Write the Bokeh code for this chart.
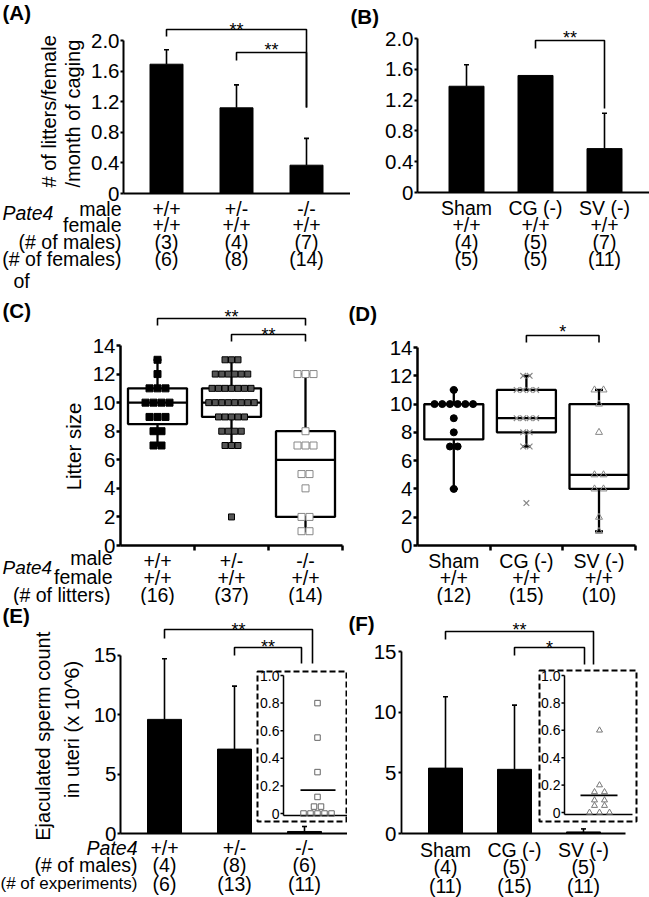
import math
from collections import Counter
import numpy as np
from bokeh.plotting import figure
from bokeh.models import Range1d, FixedTicker, Label
from bokeh.layouts import column, row
from bokeh.embed import file_html
from bokeh.resources import INLINE

# ===================== DATA =====================
# (A) litters / female / month of caging
A_male = ["+/+", "+/-", "-/-"]
A_female = ["+/+", "+/+", "+/+"]
A_n_males = ["(3)", "(4)", "(7)"]
A_n_females = ["(6)", "(8)", "(14)"]
A_mean = [1.69, 1.12, 0.37]
A_err = [0.19, 0.30, 0.35]
A_yticks = [0, 0.4, 0.8, 1.2, 1.6, 2.0]
A_yticklabels = ["0", "0.4", "0.8", "1.2", "1.6", "2.0"]
A_rows = ["male", "female", "(# of males)", "(# of females)"]

# (B)
B_groups = ["Sham", "CG (-)", "SV (-)"]
B_female = ["+/+", "+/+", "+/+"]
B_n_males = ["(4)", "(5)", "(7)"]
B_n_females = ["(5)", "(5)", "(11)"]
B_mean = [1.38, 1.52, 0.57]
B_err = [0.28, 0.0, 0.46]

# (C) litter size
C_male = ["+/+", "+/-", "-/-"]
C_female = ["+/+", "+/+", "+/+"]
C_n_litters = ["(16)", "(37)", "(14)"]
C_pts_wt = [13, 12, 11, 11, 11, 10, 10, 10, 10, 9, 9, 9, 8, 8, 7, 7]
C_pts_het = [13, 13, 13, 12, 12, 12, 12, 12, 12, 11, 11, 11, 11, 11, 11, 11,
             10, 10, 10, 10, 10, 10, 10, 10, 9, 9, 9, 9, 9, 8, 8, 8, 8, 7, 7, 7, 2]
C_pts_ko = [12, 12, 12, 8, 7, 7, 7, 5, 5, 4, 2, 2, 1, 1]
C_q1 = [8.5, 9, 2]
C_med = [10, 10, 6]
C_q3 = [11, 11, 8]
C_lo = [7, 7, 1]
C_hi = [13, 13, 12]
C_yticks = [0, 2, 4, 6, 8, 10, 12, 14]
C_yticklabels = ["0", "2", "4", "6", "8", "10", "12", "14"]

# (D)
D_groups = ["Sham", "CG (-)", "SV (-)"]
D_female = ["+/+", "+/+", "+/+"]
D_n_litters = ["(12)", "(15)", "(10)"]
D_pts_sham = [11, 10, 10, 10, 10, 10, 10, 9, 8, 7, 7, 4]
D_pts_cg = [12, 12, 11, 11, 11, 11, 9, 9, 9, 9, 8, 8, 7, 7, 3]
D_pts_sv = [11, 11, 10, 8, 5, 5, 4, 4, 2, 1]
D_q1 = [7.5, 8, 4]
D_med = [10, 9, 5]
D_q3 = [10, 11, 10]
D_lo = [4, 7, 1]
D_hi = [11, 12, 11]

# (E) ejaculated sperm count
E_groups = ["+/+", "+/-", "-/-"]
E_n_males = ["(4)", "(8)", "(6)"]
E_n_exp = ["(6)", "(13)", "(11)"]
E_mean = [9.6, 7.1, 0.17]
E_err = [5.1, 5.3, 0.42]
E_inset = [0.80, 0.55, 0.30, 0.12, 0.05, 0.05, 0, 0, 0, 0, 0]
E_yticks = [0, 5, 10, 15]
E_yticklabels = ["0", "5", "10", "15"]
inset_ticks = [0, 0.2, 0.4, 0.6, 0.8, 1.0]
inset_ticklabels = ["0", "0.2", "0.4", "0.6", "0.8", "1.0"]

# (F)
F_groups = ["Sham", "CG (-)", "SV (-)"]
F_n_males = ["(4)", "(5)", "(5)"]
F_n_exp = ["(11)", "(15)", "(11)"]
F_mean = [5.4, 5.3, 0.13]
F_err = [5.9, 5.3, 0.25]
F_inset = [0.60, 0.20, 0.15, 0.15, 0.09, 0.09, 0.05, 0.05, 0, 0, 0]

# ===================== LAYOUT HELPERS =====================
FONT = "Liberation Sans"
TXT = 19.5
TICK = 20.5


class Panel:
    """A figure whose frame is its whole canvas; page-pixel positions map to data."""

    def __init__(self, cx0, cy0, W, H, xa, kx, ya, ky):
        self.cx0, self.cy0, self.W, self.H = cx0, cy0, W, H
        self.xa, self.kx, self.ya, self.ky = xa, kx, ya, ky
        p = figure(width=W, height=H,
                   x_range=Range1d(self.dx(cx0), self.dx(cx0 + W)),
                   y_range=Range1d(self.dy(cy0 + H), self.dy(cy0)),
                   output_backend="svg", toolbar_location=None,
                   min_border_left=0, min_border_right=0, min_border_top=0, min_border_bottom=0)
        p.grid.visible = False
        p.outline_line_color = None
        p.background_fill_color = "white"
        p.border_fill_color = "white"
        self.p = p

    def dx(self, xr):
        return (xr - self.xa) / self.kx

    def dy(self, yr):
        return (self.ya - yr) / self.ky

    def px(self, d):
        return d / self.kx


def label(P, x, y, text, size=TXT, align="center", style="normal", angle=0.0, yr=None):
    kw = {"y_range_name": yr} if yr else {}
    P.p.add_layout(Label(x=x, y=y, text=text, text_font=FONT, text_font_size=f"{size}px",
                         text_font_style=style, text_align=align, text_baseline="middle",
                         angle=angle, text_color="black", **kw))


def style_axes(P, yaxis_ref, yticks, ylabels, xbounds, lw=2, tick_out=4, standoff=1, xminor=()):
    p = P.p
    ya = p.yaxis[0]
    ya.fixed_location = P.dx(yaxis_ref)
    ya.ticker = FixedTicker(ticks=list(yticks))
    ya.major_label_overrides = {t: l for t, l in zip(yticks, ylabels)}
    ya.bounds = (0, yticks[-1])
    ya.axis_line_width = lw
    ya.axis_line_color = "black"
    ya.major_tick_line_width = lw
    ya.major_tick_line_color = "black"
    ya.major_tick_out = tick_out
    ya.major_tick_in = 0
    ya.minor_tick_line_color = None
    ya.major_label_text_font = FONT
    ya.major_label_text_font_size = f"{TICK}px"
    ya.major_label_text_color = "black"
    ya.major_label_standoff = standoff
    xa = p.xaxis[0]
    xa.fixed_location = 0
    xa.ticker = FixedTicker(ticks=[], minor_ticks=list(xminor))
    xa.axis_line_width = lw
    xa.axis_line_color = "black"
    xa.major_tick_line_color = None
    xa.minor_tick_line_width = lw
    xa.minor_tick_line_color = "black"
    xa.minor_tick_out = 5
    xa.minor_tick_in = 0
    xa.bounds = xbounds


def bars(P, means, errs, width_px, cap_px=2.5):
    xs = list(range(len(means)))
    P.p.vbar(x=xs, bottom=0, top=means, width=P.px(width_px), fill_color="black", line_color="black")
    ex = [x for x, e in zip(xs, errs) if e > 0]
    em = [m for m, e in zip(means, errs) if e > 0]
    et = [m + e for m, e in zip(means, errs) if e > 0]
    P.p.segment(x0=ex, y0=em, x1=ex, y1=et, line_color="black", line_width=1.6)
    c = P.px(cap_px)
    P.p.segment(x0=[x - c for x in ex], y0=et, x1=[x + c for x in ex], y1=et,
                line_color="black", line_width=1.6)


def bracket(P, xl, xr, yh, yl, yr, star, star_y, size=18):
    P.p.multi_line(xs=[[xl, xl, xr, xr]], ys=[[P.dy(yl), P.dy(yh), P.dy(yh), P.dy(yr)]],
                   line_color="black", line_width=1.6)
    label(P, (xl + xr) / 2, P.dy(star_y), star, size=size)


def offsets(values, spacing):
    cnt = Counter(values)
    seen = Counter()
    out = []
    for v in values:
        out.append((seen[v] - (cnt[v] - 1) / 2) * spacing)
        seen[v] += 1
    return out


def boxes(P, q1, med, q3, lo, hi, half_px, cap_px, lw):
    xs = [i + 0.5 for i in range(len(q1))]
    h = P.px(half_px)
    c = P.px(cap_px)
    p = P.p
    p.segment(x0=xs, y0=q3, x1=xs, y1=hi, line_color="black", line_width=lw)
    p.segment(x0=xs, y0=lo, x1=xs, y1=q1, line_color="black", line_width=lw)
    p.segment(x0=[x - c for x in xs], y0=hi, x1=[x + c for x in xs], y1=hi, line_color="black", line_width=lw)
    p.segment(x0=[x - c for x in xs], y0=lo, x1=[x + c for x in xs], y1=lo, line_color="black", line_width=lw)
    p.quad(left=[x - h for x in xs], right=[x + h for x in xs], bottom=q1, top=q3,
           fill_color="white", line_color="black", line_width=lw)
    p.segment(x0=[x - h for x in xs], y0=med, x1=[x + h for x in xs], y1=med, line_color="black", line_width=lw)


def points(P, center, values, spacing_px, **kw):
    xs = [center + o for o in offsets(values, P.px(spacing_px))]
    P.p.scatter(x=xs, y=values, **kw)


def inset(P, vals, box, axis_x, y0_ref, ky_ref, xaxis_end, center_ref, spacing_px, mean_span,
          marker, color, size):
    p = P.p
    p.extra_y_ranges = {"ins": Range1d(start=(y0_ref - (P.cy0 + P.H)) / ky_ref,
                                       end=(y0_ref - P.cy0) / ky_ref)}
    p.quad(left=[P.dx(box[0])], right=[P.dx(box[1])], top=[P.dy(box[2])], bottom=[P.dy(box[3])],
           fill_color="white", line_color="black", line_width=2, line_dash="6 3")
    ax = P.dx(axis_x)
    base = -0.015
    p.segment(x0=[ax], y0=[base], x1=[ax], y1=[inset_ticks[-1]], y_range_name="ins",
              line_color="black", line_width=1.5)
    p.segment(x0=[ax], y0=[base], x1=[P.dx(xaxis_end)], y1=[base], y_range_name="ins",
              line_color="black", line_width=1.5)
    t = P.px(3)
    n = len(inset_ticks)
    p.segment(x0=[ax - t] * n, y0=inset_ticks, x1=[ax] * n, y1=inset_ticks, y_range_name="ins",
              line_color="black", line_width=1.5)
    for tv, tl in zip(inset_ticks, inset_ticklabels):
        label(P, ax - P.px(4), tv, tl, size=14, align="right", yr="ins")
    cx = P.dx(center_ref)
    xs = [cx + o for o in offsets(vals, P.px(spacing_px))]
    p.scatter(x=xs, y=vals, marker=marker, size=size, fill_color=None, line_color=color,
              line_width=1, y_range_name="ins")
    m = float(np.mean(vals))
    p.segment(x0=[P.dx(mean_span[0])], y0=[m], x1=[P.dx(mean_span[1])], y1=[m], y_range_name="ins",
              line_color="black", line_width=1.8)


# ===================== PANEL A =====================
A = Panel(0, 0, 350, 297, xa=166, kx=70, ya=193, ky=76.5)
style_axes(A, 123, A_yticks, A_yticklabels, (A.dx(123), A.dx(350)), lw=2, tick_out=3)
bars(A, A_mean, A_err, 33)
bracket(A, 0, 2, 29, 36, 107, "**", 29.5)
bracket(A, 1, 2, 52, 60, 107, "**", 49.5)
for i in range(3):
    label(A, i, A.dy(208), A_male[i])
    label(A, i, A.dy(224), A_female[i])
    label(A, i, A.dy(241), A_n_males[i])
    label(A, i, A.dy(258), A_n_females[i])
for txt, yy in zip(A_rows, [208, 224, 241, 258]):
    label(A, A.dx(121), A.dy(yy), txt, align="right")
label(A, A.dx(2), A.dy(212), "Pate4", align="left", style="italic")
label(A, A.dx(13), A.dy(280), "of", align="left")
label(A, A.dx(2), A.dy(12), "(A)", align="left", style="bold", size=20.5)
label(A, A.dx(48), A.dy(187), "# of litters/female", align="left", angle=math.pi / 2, size=20)
label(A, A.dx(72), A.dy(187), "/month of caging", align="left", angle=math.pi / 2, size=20)

# ===================== PANEL B =====================
B = Panel(350, 0, 299, 297, xa=466, kx=69, ya=192, ky=77)
style_axes(B, 417, A_yticks, A_yticklabels, (B.dx(417), B.dx(649)), lw=2, tick_out=3)
bars(B, B_mean, B_err, 35)
bracket(B, 1, 2, 40, 48, 108, "**", 37.5)
for i in range(3):
    label(B, i, B.dy(207), B_groups[i])
    label(B, i, B.dy(224), B_female[i])
    label(B, i, B.dy(241), B_n_males[i])
    label(B, i, B.dy(258), B_n_females[i])
label(B, B.dx(350), B.dy(16), "(B)", align="left", style="bold", size=20.5)

# ===================== PANEL C =====================
C = Panel(0, 297, 345, 308, xa=120, kx=74, ya=545, ky=200 / 14)
style_axes(C, 120, C_yticks, C_yticklabels, (0, 3), lw=2.5, tick_out=4, xminor=[1, 2, 3])
boxes(C, C_q1, C_med, C_q3, C_lo, C_hi, 29.5, 4, 2.3)
points(C, 0.5, C_pts_wt, 8, marker="square", size=7, fill_color="black", line_color="black")
points(C, 1.5, C_pts_het, 6.5, marker="square", size=6, fill_color="#555555", line_color="black")
points(C, 2.5, C_pts_ko, 8, marker="square", size=7, fill_color="white", line_color="#888888")
bracket(C, 0.5, 2.5, 318, 325, 325, "**", 316.5)
bracket(C, 1.5, 2.5, 334, 341, 341, "**", 334.5)
for i in range(3):
    label(C, i + 0.5, C.dy(560), C_male[i])
    label(C, i + 0.5, C.dy(577), C_female[i])
    label(C, i + 0.5, C.dy(594), C_n_litters[i])
label(C, C.dx(112), C.dy(557), "male", align="right")
label(C, C.dx(112), C.dy(576), "female", align="right")
label(C, C.dx(110), C.dy(594), "(# of litters)", align="right")
label(C, C.dx(2), C.dy(567), "Pate4", align="left", style="italic", size=19)
label(C, C.dx(2), C.dy(310), "(C)", align="left", style="bold", size=20.5)
label(C, C.dx(73), C.dy(446), "Litter size", angle=math.pi / 2, size=20.5)

# ===================== PANEL D =====================
D = Panel(345, 297, 304, 308, xa=417, kx=72.6, ya=545, ky=198 / 14)
style_axes(D, 417, C_yticks, C_yticklabels, (0, 3), lw=2.5, tick_out=4, xminor=[1, 2, 3])
boxes(D, D_q1, D_med, D_q3, D_lo, D_hi, 29.5, 4, 2.3)
points(D, 0.5, D_pts_sham, 7.7, marker="circle", size=7, fill_color="black", line_color="black")
points(D, 1.5, D_pts_cg, 6.5, marker="x", size=8, line_color="#888888", line_width=1.2)
points(D, 2.5, D_pts_sv, 9, marker="triangle", size=7, fill_color=None, line_color="#888888")
bracket(D, 1.5, 2.5, 335, 342, 342, "*", 331.5)
for i in range(3):
    label(D, i + 0.5, D.dy(560), D_groups[i])
    label(D, i + 0.5, D.dy(577), D_female[i])
    label(D, i + 0.5, D.dy(594), D_n_litters[i])
label(D, D.dx(348), D.dy(313), "(D)", align="left", style="bold", size=20.5)

# ===================== PANEL E =====================
E = Panel(0, 605, 347, 292, xa=164, kx=70, ya=833, ky=178.3 / 15)
style_axes(E, 120, E_yticks, E_yticklabels, (E.dx(120), E.dx(347)), lw=2, tick_out=3)
bars(E, E_mean, E_err, 34)
inset(E, E_inset, (257, 346, 671, 821), 283, 813, 138, 347, 317, 7, (300, 335),
      "square", "#666666", 5.5)
bracket(E, 0, E.dx(312), 629, 638, 663, "**", 629.5)
bracket(E, 1, E.dx(301), 647, 655, 663, "**", 646.5)
for i in range(3):
    label(E, i, E.dy(847), E_groups[i])
    label(E, i, E.dy(864), E_n_males[i])
    label(E, i, E.dy(883), E_n_exp[i])
label(E, E.dx(137), E.dy(847), "Pate4", align="right", style="italic")
label(E, E.dx(137), E.dy(864), "(# of males)", align="right")
label(E, E.dx(137), E.dy(883), "(# of experiments)", align="right", size=17)
label(E, E.dx(2), E.dy(615), "(E)", align="left", style="bold", size=20.5)
label(E, E.dx(42), E.dy(733), "Ejaculated  sperm count", angle=math.pi / 2, size=20)
label(E, E.dx(71), E.dy(729), "in uteri (x 10^6)", angle=math.pi / 2, size=20)

# ===================== PANEL F =====================
F = Panel(347, 605, 302, 292, xa=445, kx=69, ya=833, ky=181.6 / 15)
style_axes(F, 401, E_yticks, E_yticklabels, (F.dx(401), F.dx(625)), lw=1.8, tick_out=3, standoff=2)
bars(F, F_mean, F_err, 34)
inset(F, F_inset, (539, 636, 670, 821), 564, 812, 137, 632, 599, 10, (580, 617),
      "triangle", "#777777", 6)
bracket(F, 0, F.dx(593), 631, 639, 664, "**", 629.5)
bracket(F, 1, F.dx(584), 647, 655, 664, "*", 647.5)
for i in range(3):
    label(F, i, F.dy(849), F_groups[i])
    label(F, i, F.dy(866), F_n_males[i])
    label(F, i, F.dy(885), F_n_exp[i])
label(F, F.dx(348), F.dy(623), "(F)", align="left", style="bold", size=20.5)

layout = column(row(A.p, B.p), row(C.p, D.p), row(E.p, F.p))
open("out.html", "w").write(file_html(layout, INLINE))
